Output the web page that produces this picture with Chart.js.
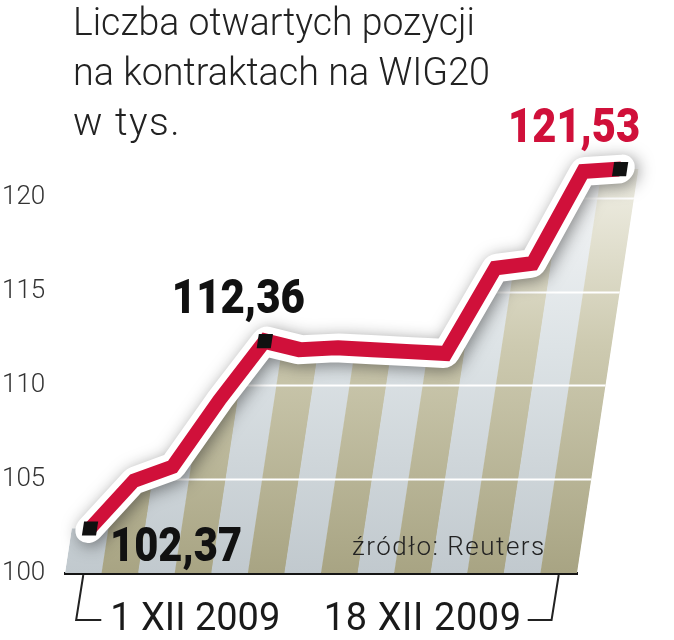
<!DOCTYPE html>
<html>
<head>
<meta charset="utf-8">
<script src="https://cdn.jsdelivr.net/npm/chart.js@4.4.0/dist/chart.umd.min.js"></script>
<style>
    html, body { margin: 0; padding: 0; background: #fff; }
    #wrap { width: 674px; height: 640px; position: relative; }
</style>
</head>
<body>
<div id="wrap"><canvas id="oiChart" width="674" height="640"></canvas></div>
<script>
// Open positions on WIG20 futures, thousands
const dates = ['1 XII 2009', '2 XII 2009', '3 XII 2009', '4 XII 2009', '7 XII 2009',
    '8 XII 2009', '9 XII 2009', '10 XII 2009', '11 XII 2009', '14 XII 2009',
    '15 XII 2009', '16 XII 2009', '17 XII 2009', '18 XII 2009'];
const openInterest = [102.37, 104.92, 105.67, 109.2, 112.36, 111.9, 112.0,
    111.9, 111.8, 111.7, 116.25, 116.5, 121.4, 121.53];
const markedPoints = [0, 4, 13];
const yTicks = [100, 105, 110, 115, 120];
const titleLines = ['Liczba otwartych pozycji', 'na kontraktach na WIG20', 'w tys.'];
const sourceText = 'źródło: Reuters';

const RED = '#d0103a';
const SHEAR = 0.152;   // the chart leans to the right

function applyShear(ctx, chart) {
    const base = chart.chartArea.bottom;
    ctx.transform(1, 0, -SHEAR, 1, SHEAR * base, 0);
}

function shearedX(chart, p) {
    return p.x + SHEAR * (chart.chartArea.bottom - p.y);
}

// draw text fitted to a given width: squeeze it if too wide, space it out a little if narrow
function fitText(ctx, text, x, y, width, font, color, align) {
    ctx.save();
    ctx.font = font;
    ctx.fillStyle = color;
    ctx.textBaseline = 'alphabetic';
    ctx.textAlign = 'left';
    let m = ctx.measureText(text).width;
    if (m < width && text.length > 1) {
        const gap = Math.min(1.5, (width - m) / (text.length - 1));
        ctx.letterSpacing = gap.toFixed(2) + 'px';
        m = ctx.measureText(text).width;
    }
    ctx.translate(align === 'right' ? x - Math.min(m, width) : x, y);
    if (m > width) ctx.scale(width / m, 1);
    ctx.fillText(text, 0, 0);
    ctx.restore();
}

function fmt(v) {
    return v.toFixed(2).replace('.', ',');
}

// Striped area under the line + white grid lines, clipped to the area
const stripesPlugin = {
    id: 'stripes',
    beforeDatasetsDraw(chart) {
        const { ctx, chartArea: a, scales: { x, y } } = chart;
        const pts = chart.getDatasetMeta(1).data;
        const last = pts.length - 1;

        ctx.save();
        applyShear(ctx, chart);
        ctx.beginPath();
        ctx.moveTo(a.left, a.bottom);
        ctx.lineTo(a.left, pts[0].y);
        pts.forEach(p => ctx.lineTo(p.x, p.y));
        ctx.lineTo(a.right, pts[last].y);
        ctx.lineTo(a.right, a.bottom);
        ctx.closePath();
        ctx.clip();

        const top = y.getPixelForValue(122);
        const tan = ctx.createLinearGradient(0, top, 0, a.bottom);
        tan.addColorStop(0, '#f2f1e8');
        tan.addColorStop(0.45, '#cdcab0');
        tan.addColorStop(1, '#a8a483');
        const blue = ctx.createLinearGradient(0, top, 0, a.bottom);
        blue.addColorStop(0, '#f6f7f8');
        blue.addColorStop(0.45, '#dde3e6');
        blue.addColorStop(1, '#c1c9ce');

        const w = (a.right - a.left) / dates.length;
        dates.forEach((d, i) => {
            const cx = x.getPixelForValue(i);
            ctx.fillStyle = i % 2 ? tan : blue;
            ctx.fillRect(cx - w / 2, top - 40, w + 0.5, a.bottom - top + 40);
        });

        ctx.strokeStyle = '#fff';
        ctx.lineWidth = 2;
        yTicks.slice(1).forEach(v => {
            const py = Math.round(y.getPixelForValue(v)) + 0.5;
            ctx.beginPath();
            ctx.moveTo(a.left - 100, py);
            ctx.lineTo(a.right + 100, py);
            ctx.stroke();
        });
        ctx.restore();
    }
};

// lean every dataset, give the white outline a soft shadow
const leanPlugin = {
    id: 'lean',
    beforeDatasetDraw(chart, args) {
        const ctx = chart.ctx;
        ctx.save();
        applyShear(ctx, chart);
        if (args.index === 2) {
            ctx.shadowColor = 'rgba(30, 30, 30, 0.5)';
            ctx.shadowBlur = 16;
            ctx.shadowOffsetX = 3;
            ctx.shadowOffsetY = 3;
        }
    },
    afterDatasetDraw(chart) {
        chart.ctx.restore();
    }
};

// value labels: [point index, dx, dy, width, color, align]
const valueLabels = [
    [0, 20, 32, 132, '#111', 'left'],
    [4, -93, -28, 133, '#111', 'left'],
    [13, 20, -27, 132, RED, 'right']
];

const textPlugin = {
    id: 'texts',
    afterDraw(chart) {
        const { ctx, chartArea: a, scales: { x } } = chart;
        const pts = chart.getDatasetMeta(1).data;

        // title
        fitText(ctx, titleLines[0], 73, 35, 402, '300 39px Roboto', '#222');
        fitText(ctx, titleLines[1], 73, 85, 417, '300 39px Roboto', '#222');
        fitText(ctx, titleLines[2], 73, 135, 125, '300 39px Roboto', '#222');

        valueLabels.forEach(([i, dx, dy, w, color, align]) => {
            const p = pts[i];
            fitText(ctx, fmt(openInterest[i]), shearedX(chart, p) + dx, p.y + dy, w,
                '900 48px Roboto', color, align);
        });

        fitText(ctx, sourceText, 352, 555, 196, '300 26px Roboto', '#222');

        // date brackets under the axis
        const x0 = x.getPixelForValue(0);
        const x1 = x.getPixelForValue(dates.length - 1);
        const yb = a.bottom + 47;
        const slant = SHEAR * 47;
        ctx.save();
        ctx.strokeStyle = '#222';
        ctx.lineWidth = 2;
        ctx.beginPath();
        ctx.moveTo(x0, a.bottom + 2);
        ctx.lineTo(x0 - slant, yb);
        ctx.lineTo(x0 + 18, yb);
        ctx.moveTo(x1, a.bottom + 2);
        ctx.lineTo(x1 - slant, yb);
        ctx.lineTo(x1 - 31, yb);
        ctx.stroke();
        ctx.restore();

        fitText(ctx, dates[0], x0 + 27, 630, 170, '400 38px Roboto', '#1a1a1a');
        fitText(ctx, dates[dates.length - 1], x1 - 37, 630, 198, '400 38px Roboto', '#1a1a1a', 'right');
    }
};

const ctx = document.getElementById('oiChart');
new Chart(ctx, {
    type: 'line',
    data: {
        labels: dates,
        datasets: [
            {
                label: 'marked',
                data: openInterest.map((v, i) => markedPoints.includes(i) ? v : null),
                showLine: false,
                pointStyle: 'rect',
                pointRadius: 10,
                pointBackgroundColor: '#111',
                pointBorderWidth: 0,
                clip: false,
                order: 0
            },
            {
                label: 'Liczba otwartych pozycji',
                data: openInterest,
                borderColor: RED,
                borderWidth: 15,
                borderJoinStyle: 'miter',
                borderCapStyle: 'butt',
                pointRadius: 0,
                tension: 0,
                fill: false,
                clip: false,
                order: 1
            },
            {
                label: 'outline',
                data: openInterest,
                borderColor: '#ffffff',
                borderWidth: 29,
                borderJoinStyle: 'round',
                borderCapStyle: 'round',
                pointRadius: 0,
                tension: 0,
                fill: false,
                clip: false,
                order: 2
            }
        ]
    },
    options: {
        responsive: false,
        animation: false,
        events: [],
        layout: { padding: { top: 104, right: 97, bottom: 0, left: 2 } },
        plugins: {
            legend: { display: false },
            tooltip: { enabled: false },
            title: { display: false }
        },
        scales: {
            x: {
                type: 'category',
                offset: true,
                afterFit(s) { s.height = 67; },
                grid: { display: false },
                border: { display: true, color: '#151515', width: 3 },
                ticks: { display: false }
            },
            y: {
                min: 100,
                max: 125,
                afterFit(s) { s.width = 63; },
                afterBuildTicks(s) { s.ticks = yTicks.map(v => ({ value: v })); },
                grid: { display: false },
                border: { display: false },
                ticks: {
                    crossAlign: 'far',
                    padding: 0,
                    color: '#333',
                    font: { family: 'Roboto', size: 26, weight: 300 }
                }
            }
        }
    },
    plugins: [stripesPlugin, leanPlugin, textPlugin]
});
</script>
</body>
</html>
